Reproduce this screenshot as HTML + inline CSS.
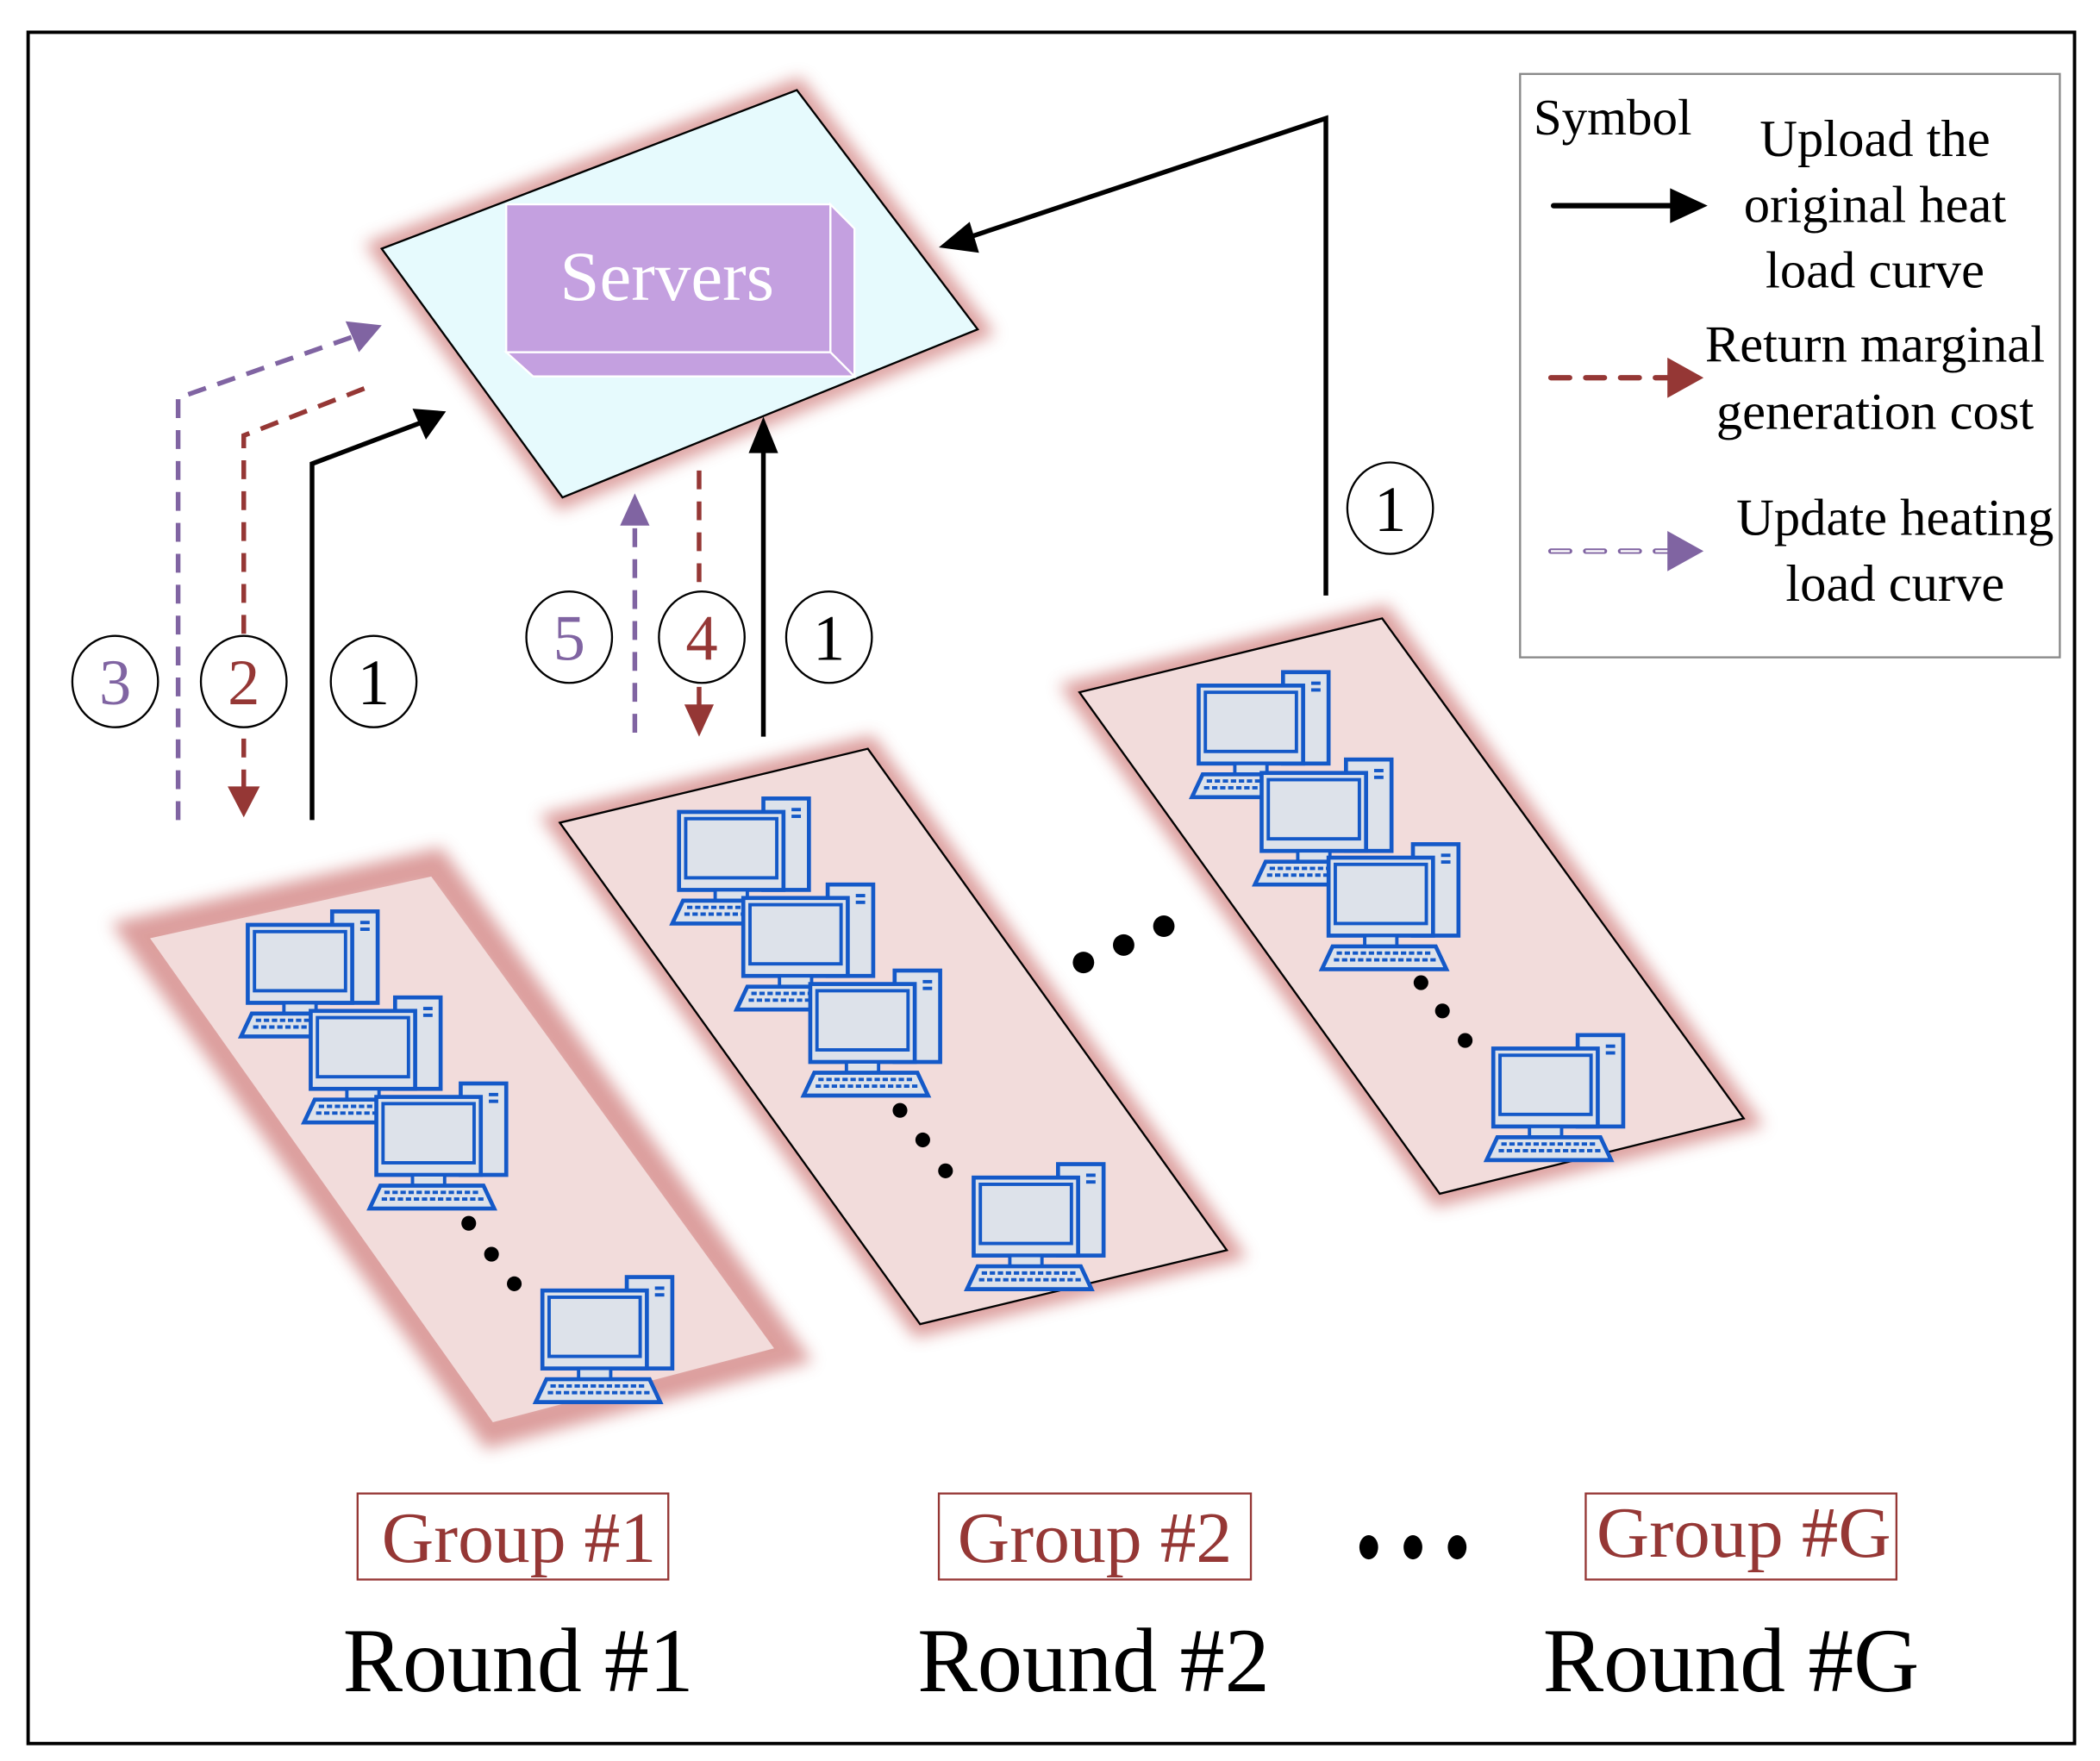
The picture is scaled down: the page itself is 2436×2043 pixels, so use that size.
<!DOCTYPE html>
<html><head><meta charset="utf-8"><style>html,body{margin:0;padding:0;background:#fff}svg{display:block}</style></head>
<body>
<svg xmlns="http://www.w3.org/2000/svg" width="2436" height="2043" viewBox="0 0 1568 1310" preserveAspectRatio="none" font-family="Liberation Serif, serif">
<defs>
<filter id="fz" x="-20%" y="-20%" width="140%" height="140%"><feGaussianBlur stdDeviation="6"/></filter>
<g id="pc">
<rect x="63" y="-10" width="34" height="68" fill="#dde2ea" stroke="#1459c8" stroke-width="3"/>
<rect x="84" y="-3" width="7" height="2.5" fill="#1459c8"/><rect x="84" y="2" width="7" height="2.5" fill="#1459c8"/>
<rect x="0" y="0" width="78" height="58" fill="#dde2ea" stroke="#1459c8" stroke-width="3"/>
<rect x="5" y="5" width="68" height="44" fill="#dde2ea" stroke="#1459c8" stroke-width="2.5"/>
<rect x="27" y="58" width="24" height="8" fill="#dde2ea" stroke="#1459c8" stroke-width="2.5"/>
<polygon points="-5,83 88,83 80,66 3,66" fill="#dde2ea" stroke="#1459c8" stroke-width="3"/>
<line x1="6" y1="71" x2="76" y2="71" stroke="#1459c8" stroke-width="2.5" stroke-dasharray="4,2"/>
<line x1="4" y1="76" x2="80" y2="76" stroke="#1459c8" stroke-width="2.5" stroke-dasharray="4,2"/>
</g>
</defs>
<rect x="21" y="24" width="1528" height="1273" fill="#fff" stroke="#000" stroke-width="2.5"/>

<!-- server plane -->
<polygon points="285,185 595,67 730,245 420,370" fill="none" stroke="#c0504d" stroke-width="16" filter="url(#fz)" opacity="0.55"/>
<polygon points="285,185 595,67 730,245 420,370" fill="#e6fafd" stroke="#000" stroke-width="1.5"/>
<polygon points="620,152 638,170 638,280 620,262" fill="#c4a0e0" stroke="#fff" stroke-width="1.5"/>
<polygon points="378,262 620,262 638,280 398,280" fill="#c4a0e0" stroke="#fff" stroke-width="1.5"/>
<rect x="378" y="152" width="242" height="110" fill="#c4a0e0" stroke="#fff" stroke-width="1.5"/>
<text x="498" y="223" font-size="52" fill="#fff" text-anchor="middle" textLength="160" lengthAdjust="spacingAndGlyphs">Servers</text>

<!-- groups -->
<polygon points="105,695 324,645 585,1005 368,1063" fill="none" stroke="#c0504d" stroke-width="26" filter="url(#fz)" opacity="0.55"/>
<polygon points="112,698 322,652 578,1003 368,1058" fill="#f2dcdb"/>
<polygon points="418,612 648,557 916,930 687,985" fill="none" stroke="#c0504d" stroke-width="18" filter="url(#fz)" opacity="0.55"/>
<polygon points="418,612 648,557 916,930 687,985" fill="#f2dcdb" stroke="#000" stroke-width="1.5"/>
<polygon points="806,515 1032,460 1302,832 1075,888" fill="none" stroke="#c0504d" stroke-width="18" filter="url(#fz)" opacity="0.55"/>
<polygon points="806,515 1032,460 1302,832 1075,888" fill="#f2dcdb" stroke="#000" stroke-width="1.5"/>

<use href="#pc" x="185" y="688"/><use href="#pc" x="232" y="752"/><use href="#pc" x="281" y="816"/><use href="#pc" x="405" y="960"/>
<use href="#pc" x="507" y="604"/><use href="#pc" x="555" y="668"/><use href="#pc" x="605" y="732"/><use href="#pc" x="727" y="876"/>
<use href="#pc" x="895" y="510"/><use href="#pc" x="942" y="575"/><use href="#pc" x="992" y="638"/><use href="#pc" x="1115" y="780"/>

<g fill="#000">
<circle cx="350" cy="910" r="5.5"/><circle cx="367" cy="933" r="5.5"/><circle cx="384" cy="955" r="5.5"/>
<circle cx="672" cy="826" r="5.5"/><circle cx="689" cy="848" r="5.5"/><circle cx="706" cy="871" r="5.5"/>
<circle cx="1061" cy="731" r="5.5"/><circle cx="1077" cy="752" r="5.5"/><circle cx="1094" cy="774" r="5.5"/>
<circle cx="809" cy="716" r="8"/><circle cx="839" cy="703" r="8"/><circle cx="869" cy="689" r="8"/>
<ellipse cx="1022" cy="1151" rx="7" ry="9"/><ellipse cx="1055" cy="1151" rx="7" ry="9"/><ellipse cx="1088" cy="1151" rx="7" ry="9"/>
</g>

<!-- arrows left -->
<polyline points="233,610 233,345 318,313" fill="none" stroke="#000" stroke-width="3.5"/>
<polygon points="333,306 308,304 318,327" fill="#000"/>
<polyline points="272,289 182,324 182,590" fill="none" stroke="#953735" stroke-width="3.5" stroke-dasharray="14,9"/>
<polygon points="170,585 194,585 182,608" fill="#953735"/>
<polyline points="133,610 133,296 265,250" fill="none" stroke="#8064a2" stroke-width="3.5" stroke-dasharray="14,9"/>
<polygon points="285,242 258,239 268,262" fill="#8064a2"/>
<!-- middle -->
<line x1="474" y1="545" x2="474" y2="390" stroke="#8064a2" stroke-width="3.5" stroke-dasharray="14,9"/>
<polygon points="474,367 463,391 485,391" fill="#8064a2"/>
<line x1="522" y1="350" x2="522" y2="528" stroke="#953735" stroke-width="3.5" stroke-dasharray="14,9"/>
<polygon points="511,524 533,524 522,548" fill="#953735"/>
<line x1="570" y1="548" x2="570" y2="334" stroke="#000" stroke-width="3.5"/>
<polygon points="570,310 559,337 581,337" fill="#000"/>
<!-- right -->
<polyline points="990,443 990,88 722,177" fill="none" stroke="#000" stroke-width="3.5"/>
<polygon points="701,184 724,165 731,188" fill="#000"/>

<!-- circles -->
<g fill="#fff" stroke="#000" stroke-width="1.5">
<ellipse cx="86" cy="507" rx="32" ry="34"/><ellipse cx="182" cy="507" rx="32" ry="34"/><ellipse cx="279" cy="507" rx="32" ry="34"/>
<ellipse cx="425" cy="474" rx="32" ry="34"/><ellipse cx="524" cy="474" rx="32" ry="34"/><ellipse cx="619" cy="474" rx="32" ry="34"/>
<ellipse cx="1038" cy="378" rx="32" ry="34"/>
</g>
<g font-size="48" text-anchor="middle">
<text x="86" y="524" fill="#8064a2">3</text><text x="182" y="524" fill="#953735">2</text><text x="279" y="524" fill="#000">1</text>
<text x="425" y="491" fill="#8064a2">5</text><text x="524" y="491" fill="#953735">4</text><text x="619" y="491" fill="#000">1</text>
<text x="1038" y="395" fill="#000">1</text>
</g>

<!-- legend -->
<rect x="1135" y="55" width="403" height="434" fill="#fff" stroke="#888" stroke-width="1.5"/>
<text x="1145" y="100" font-size="38">Symbol</text>
<g font-size="39" text-anchor="middle">
<text x="1400" y="116">Upload the</text>
<text x="1400" y="165">original heat</text>
<text x="1400" y="214">load curve</text>
<text x="1400" y="269">Return marginal</text>
<text x="1400" y="319">generation cost</text>
<text x="1415" y="398">Update heating</text>
<text x="1415" y="447">load curve</text>
</g>
<line x1="1160" y1="153" x2="1250" y2="153" stroke="#000" stroke-width="4" stroke-linecap="round"/>
<polygon points="1247,140 1275,153 1247,166" fill="#000"/>
<line x1="1158" y1="281" x2="1250" y2="281" stroke="#953735" stroke-width="4" stroke-dasharray="14,12" stroke-linecap="round"/>
<polygon points="1245,266 1272,281 1245,296" fill="#953735"/>
<line x1="1158" y1="410" x2="1250" y2="410" stroke="#8064a2" stroke-width="4" stroke-dasharray="14,12" stroke-linecap="round"/>
<line x1="1158" y1="410" x2="1250" y2="410" stroke="#fff" stroke-width="1.5" stroke-dasharray="14,12"/>
<polygon points="1245,395 1272,410 1245,425" fill="#8064a2"/>

<!-- bottom labels -->
<g fill="#fff" stroke="#953735" stroke-width="1.5">
<rect x="267" y="1111" width="232" height="64"/><rect x="701" y="1111" width="233" height="64"/><rect x="1184" y="1111" width="232" height="64"/>
</g>
<g font-size="54" fill="#953735">
<text x="285" y="1162" textLength="205" lengthAdjust="spacingAndGlyphs">Group #1</text>
<text x="715" y="1162" textLength="205" lengthAdjust="spacingAndGlyphs">Group #2</text>
<text x="1192" y="1158" textLength="220" lengthAdjust="spacingAndGlyphs">Group #G</text>
</g>
<g font-size="68" fill="#000">
<text x="256" y="1258" textLength="262" lengthAdjust="spacingAndGlyphs">Round #1</text>
<text x="685" y="1258" textLength="263" lengthAdjust="spacingAndGlyphs">Round #2</text>
<text x="1152" y="1258" textLength="281" lengthAdjust="spacingAndGlyphs">Round #G</text>
</g>
</svg>
</body></html>
